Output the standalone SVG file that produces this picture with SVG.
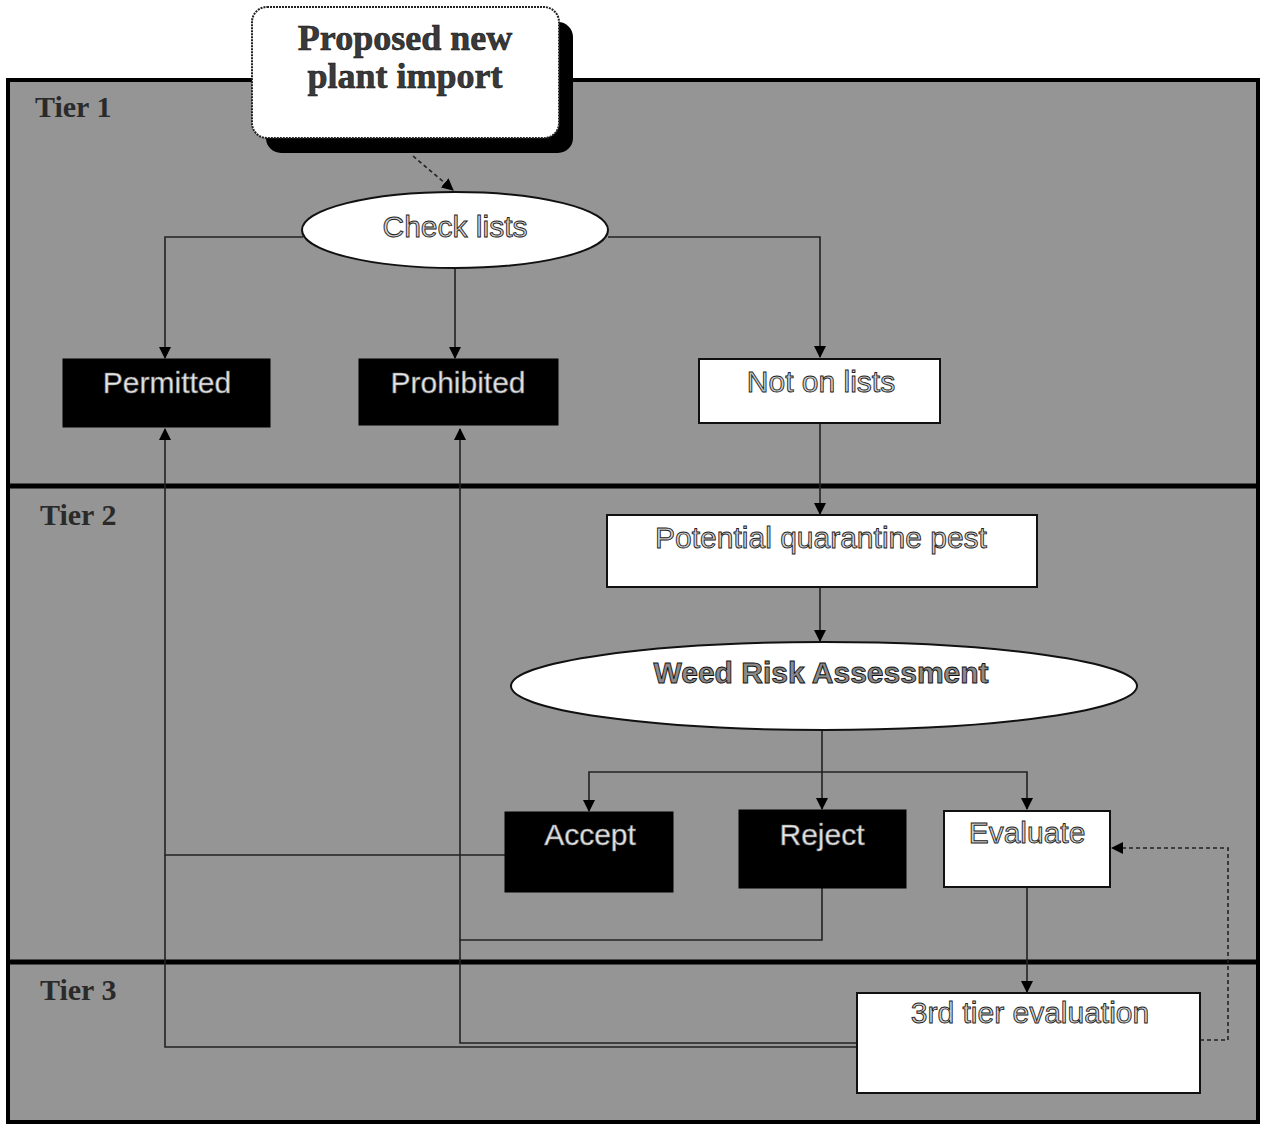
<svg xmlns="http://www.w3.org/2000/svg" width="1263" height="1125" viewBox="0 0 1263 1125">
<style>
.bg{fill:#959595}
.frame{fill:none;stroke:#000;stroke-width:4}
.div{stroke:#000;stroke-width:5}
.tier{font-family:"Liberation Serif",serif;font-weight:bold;font-size:30px;fill:#2a2a2a}
.lbl{font-family:"Liberation Sans",Arial,sans-serif;font-size:30px;text-anchor:middle;fill:#d4d4d4;stroke:#222;stroke-width:0.9}
.lblb{font-family:"Liberation Sans",Arial,sans-serif;font-size:30px;text-anchor:middle;fill:#e6e6e6;stroke:#777;stroke-width:0.6}
.wra{font-family:"Liberation Sans",Arial,sans-serif;font-size:30px;font-weight:bold;text-anchor:middle;fill:#8a8a8a;stroke:#111;stroke-width:0.9}
.dark{fill:#000;stroke:#000;stroke-width:1}
.light{fill:#fff;stroke:#111;stroke-width:2}
.conn{fill:none;stroke:#222;stroke-width:1.6}
.dash{fill:none;stroke:#222;stroke-width:1.6;stroke-dasharray:4 3}
.ptitle{font-family:"Liberation Serif",serif;font-weight:bold;font-size:36px;text-anchor:middle;fill:#3a3a3a;stroke:#111;stroke-width:0.6}
</style>
<defs>
<marker id="ah" viewBox="0 0 12 12" refX="11" refY="6" markerWidth="12" markerHeight="12" markerUnits="userSpaceOnUse" orient="auto">
<path d="M0,0 L12,6 L0,12 Z" fill="#000"/>
</marker>
</defs>
<rect width="1263" height="1125" fill="#fff"/>
<rect class="bg" x="8" y="80" width="1250" height="1042"/>
<rect class="frame" x="8" y="80" width="1250" height="1042"/>
<line class="div" x1="8" y1="486" x2="1258" y2="486"/>
<line class="div" x1="8" y1="962" x2="1258" y2="962"/>
<text class="tier" x="35" y="117">Tier 1</text>
<text class="tier" x="40" y="525">Tier 2</text>
<text class="tier" x="40" y="1000">Tier 3</text>
<g id="connectors">
<path class="dash" d="M413,156 L453,190" marker-end="url(#ah)"/>
<path class="conn" d="M303,237 H165 V358" marker-end="url(#ah)"/>
<path class="conn" d="M455,268 V358" marker-end="url(#ah)"/>
<path class="conn" d="M608,237 H820 V357" marker-end="url(#ah)"/>
<path class="conn" d="M820,423 V514" marker-end="url(#ah)"/>
<path class="conn" d="M820,587 V641" marker-end="url(#ah)"/>
<path class="conn" d="M822,730 V809" marker-end="url(#ah)"/>
<path class="conn" d="M822,772 H589 V811" marker-end="url(#ah)"/>
<path class="conn" d="M822,772 H1027 V809" marker-end="url(#ah)"/>
<path class="conn" d="M505,855 H165 V429" marker-end="url(#ah)"/>
<path class="conn" d="M822,888 V940 H460 V429" marker-end="url(#ah)"/>
<path class="conn" d="M1027,887 V992" marker-end="url(#ah)"/>
<path class="conn" d="M857,1047 H165 V855"/>
<path class="conn" d="M857,1043 H460 V940"/>
<path class="dash" d="M1200,1040 H1228 V848 H1112" marker-end="url(#ah)"/>
</g>
<g id="proposed">
<rect x="266" y="22" width="307" height="131" rx="15" fill="#000"/>
<rect x="252" y="7" width="307" height="131" rx="15" fill="#fff" stroke="#222" stroke-width="2" stroke-dasharray="2 1"/>
<text class="ptitle" x="405" y="50">Proposed new</text>
<text class="ptitle" x="405" y="88">plant import</text>
</g>
<g id="checklists">
<ellipse cx="455" cy="230" rx="153" ry="38" class="light"/>
<text class="lbl" x="455" y="237" font-size="27">Check lists</text>
</g>
<g id="permitted">
<rect class="dark" x="63" y="359" width="207" height="68"/>
<text class="lblb" x="167" y="393">Permitted</text>
</g>
<g id="prohibited">
<rect class="dark" x="359" y="359" width="199" height="66"/>
<text class="lblb" x="458" y="393">Prohibited</text>
</g>
<g id="notonlists">
<rect class="light" x="699" y="359" width="241" height="64"/>
<text class="lbl" x="821" y="392">Not on lists</text>
</g>
<g id="pqp">
<rect class="light" x="607" y="515" width="430" height="72"/>
<text class="lbl" x="821" y="548">Potential quarantine pest</text>
</g>
<g id="wra">
<ellipse cx="824" cy="686" rx="313" ry="44" class="light"/>
<text class="wra" x="821" y="683">Weed Risk Assessment</text>
</g>
<g id="accept">
<rect class="dark" x="505" y="812" width="168" height="80"/>
<text class="lblb" x="590" y="845">Accept</text>
</g>
<g id="reject">
<rect class="dark" x="739" y="810" width="167" height="78"/>
<text class="lblb" x="822" y="845">Reject</text>
</g>
<g id="evaluate">
<rect class="light" x="944" y="811" width="166" height="76"/>
<text class="lbl" x="1027" y="843">Evaluate</text>
</g>
<g id="tier3eval">
<rect class="light" x="857" y="993" width="343" height="100"/>
<text class="lbl" x="1030" y="1023">3rd tier evaluation</text>
</g>
</svg>
